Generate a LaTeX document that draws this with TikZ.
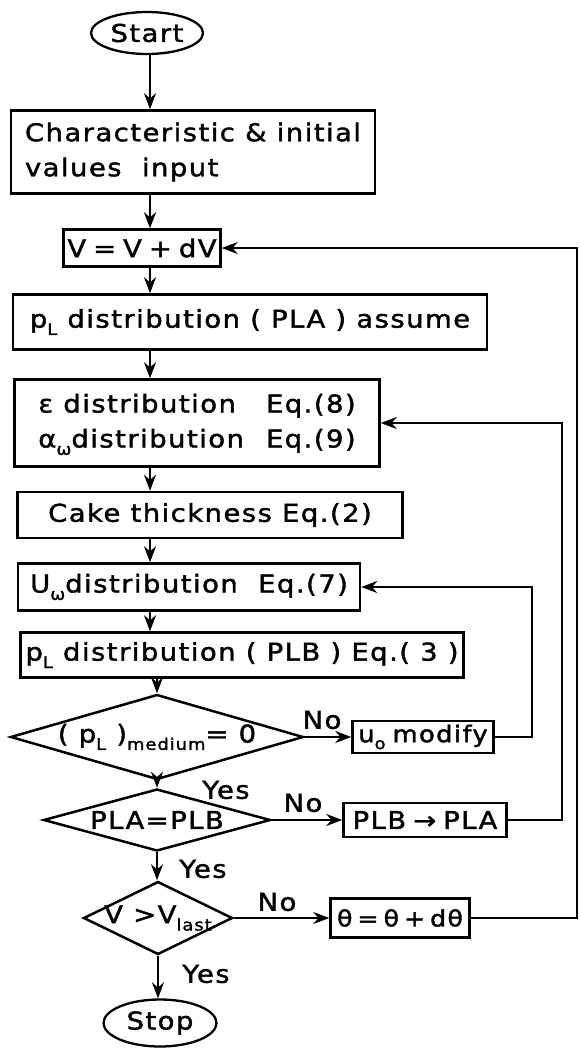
\documentclass[tikz,border=0pt]{standalone}
\usepackage{fontspec}
\setmainfont{DejaVu Sans}[FakeStretch=1.12,LetterSpace=6,FakeBold=1.6]
\usetikzlibrary{arrows.meta}
\usetikzlibrary{shapes.geometric}
\newcommand{\lowidx}[1]{\raisebox{-0.55ex}{\fontsize{16}{16}\selectfont #1}}
\newcommand{\gap}{\hspace{7pt}}
\tikzstyle{box}=[rectangle,draw=black,line width=2.5pt,inner sep=0pt,font=\fontsize{24.5}{35}\selectfont]
\tikzstyle{term}=[ellipse,draw=black,line width=2.3pt,inner sep=0pt,font=\fontsize{24.5}{27}\selectfont]
\tikzstyle{dec}=[diamond,draw=black,line width=2.5pt,inner sep=0pt,font=\fontsize{24.5}{27}\selectfont]
\tikzstyle{lab}=[inner sep=0pt,font=\fontsize{24.5}{27}\selectfont]
\tikzstyle{arr}=[-{Stealth[length=16pt,width=12pt]},draw=black,line width=2.3pt]

\begin{document}
\begin{tikzpicture}[x=1pt,y=-1pt]
  \useasboundingbox (0,0) rectangle (579,1050);
  \coordinate (col) at (150,0);
  \coordinate (rt) at (577,0);
  \coordinate (rp) at (562,0);
  \coordinate (ru) at (532,0);
  % main column
  \node[term,minimum width=112pt,minimum height=42pt] (start) at (147,33) {Start};
  \node[box,minimum width=364pt,minimum height=83pt,align=left] (init) at (193,152) {Characteristic \& initial\\values\ \ input};
  \node[box,minimum width=157pt,minimum height=37pt] (vbox) at (142,248) {V\gap=\gap V\gap+\gap dV};
  \node[box,minimum width=474pt,minimum height=55pt] (pla) at (250,322) {p\lowidx{L} distribution ( PLA ) assume};
  \node[box,minimum width=365pt,minimum height=87pt] (eps) at (197,423) {\begin{tabular}{@{}l@{\hspace{22pt}}l@{}}ε distribution & Eq.(8)\\α\lowidx{ω}distribution & Eq.(9)\end{tabular}};
  \node[box,minimum width=385pt,minimum height=46pt] (cake) at (210,515) {Cake thickness Eq.(2)};
  \node[box,minimum width=342pt,minimum height=47pt] (uw) at (189,587) {U\lowidx{ω}distribution\ \ Eq.(7)};
  \node[box,minimum width=443pt,minimum height=45pt] (plb) at (242,655) {p\lowidx{L} distribution ( PLB ) Eq.( 3 )};
  \node[dec,minimum width=293pt,minimum height=85pt] (d1) at (157,737) {\makebox[0pt]{( p\lowidx{L} )\lowidx{medium}= 0}};
  \node[dec,minimum width=227pt,minimum height=62pt] (d2) at (157,820) {\makebox[0pt]{PLA=PLB}};
  \node[dec,minimum width=149pt,minimum height=73pt] (d3) at (158,918) {\makebox[0pt]{V >V\lowidx{last}}};
  \node[term,minimum width=113pt,minimum height=47pt] (stop) at (160,1023) {Stop};
  % side boxes
  \node[box,minimum width=141pt,minimum height=32pt,font=\fontsize{23}{26}\selectfont] (umod) at (423,737) {u\lowidx{o}\gap modify};
  \node[box,minimum width=163pt,minimum height=34pt] (swap) at (425,820) {PLB\gap →\gap PLA};
  \node[box,minimum width=139pt,minimum height=39pt,font=\fontsize{22.5}{26}\selectfont] (theta) at (400,918) {θ\hspace{5pt}=\hspace{5pt}θ\hspace{5pt}+\hspace{5pt}dθ};
  % labels
  \node[lab] (no1) at (322,720) {No};
  \node[lab] (no2) at (303,803) {No};
  \node[lab] (no3) at (277,902) {No};
  \node[lab] (yes1) at (226,790) {Yes};
  \node[lab] (yes2) at (203,869) {Yes};
  \node[lab] (yes3) at (206,974) {Yes};
  % arrows
  \draw[arr] (start.south -| col) -- (init.north -| col);
  \draw[arr] (init.south -| col) -- (vbox.north -| col);
  \draw[arr] (vbox.south -| col) -- (pla.north -| col);
  \draw[arr] (pla.south -| col) -- (eps.north -| col);
  \draw[arr] (eps.south -| col) -- (cake.north -| col);
  \draw[arr] (cake.south -| col) -- (uw.north -| col);
  \draw[arr] (uw.south -| col) -- (plb.north -| col);
  \draw[arr] (plb.south -| d1.north) -- (d1.north);
  \draw[arr] (d1.south) -- (d2.north);
  \draw[arr] (d2.south) -- (d2.south |- d3.north);
  \draw[arr] (d3.south) -- (d3.south |- stop.north);
  \draw[arr] (d1.east) -- (d1.east -| umod.west);
  \draw[arr] (d2.east) -- (d2.east -| swap.west);
  \draw[arr] (d3.east) -- (d3.east -| theta.west);
  % loops back
  \draw[arr] (umod.east) -- (umod.east -| ru) -- (uw.east -| ru) -- (uw.east);
  \draw[arr] (swap.east) -- (swap.east -| rp) -- (eps.east -| rp) -- (eps.east);
  \draw[arr] (theta.east) -- (theta.east -| rt) -- (vbox.east -| rt) -- (vbox.east);
\end{tikzpicture}
\end{document}
